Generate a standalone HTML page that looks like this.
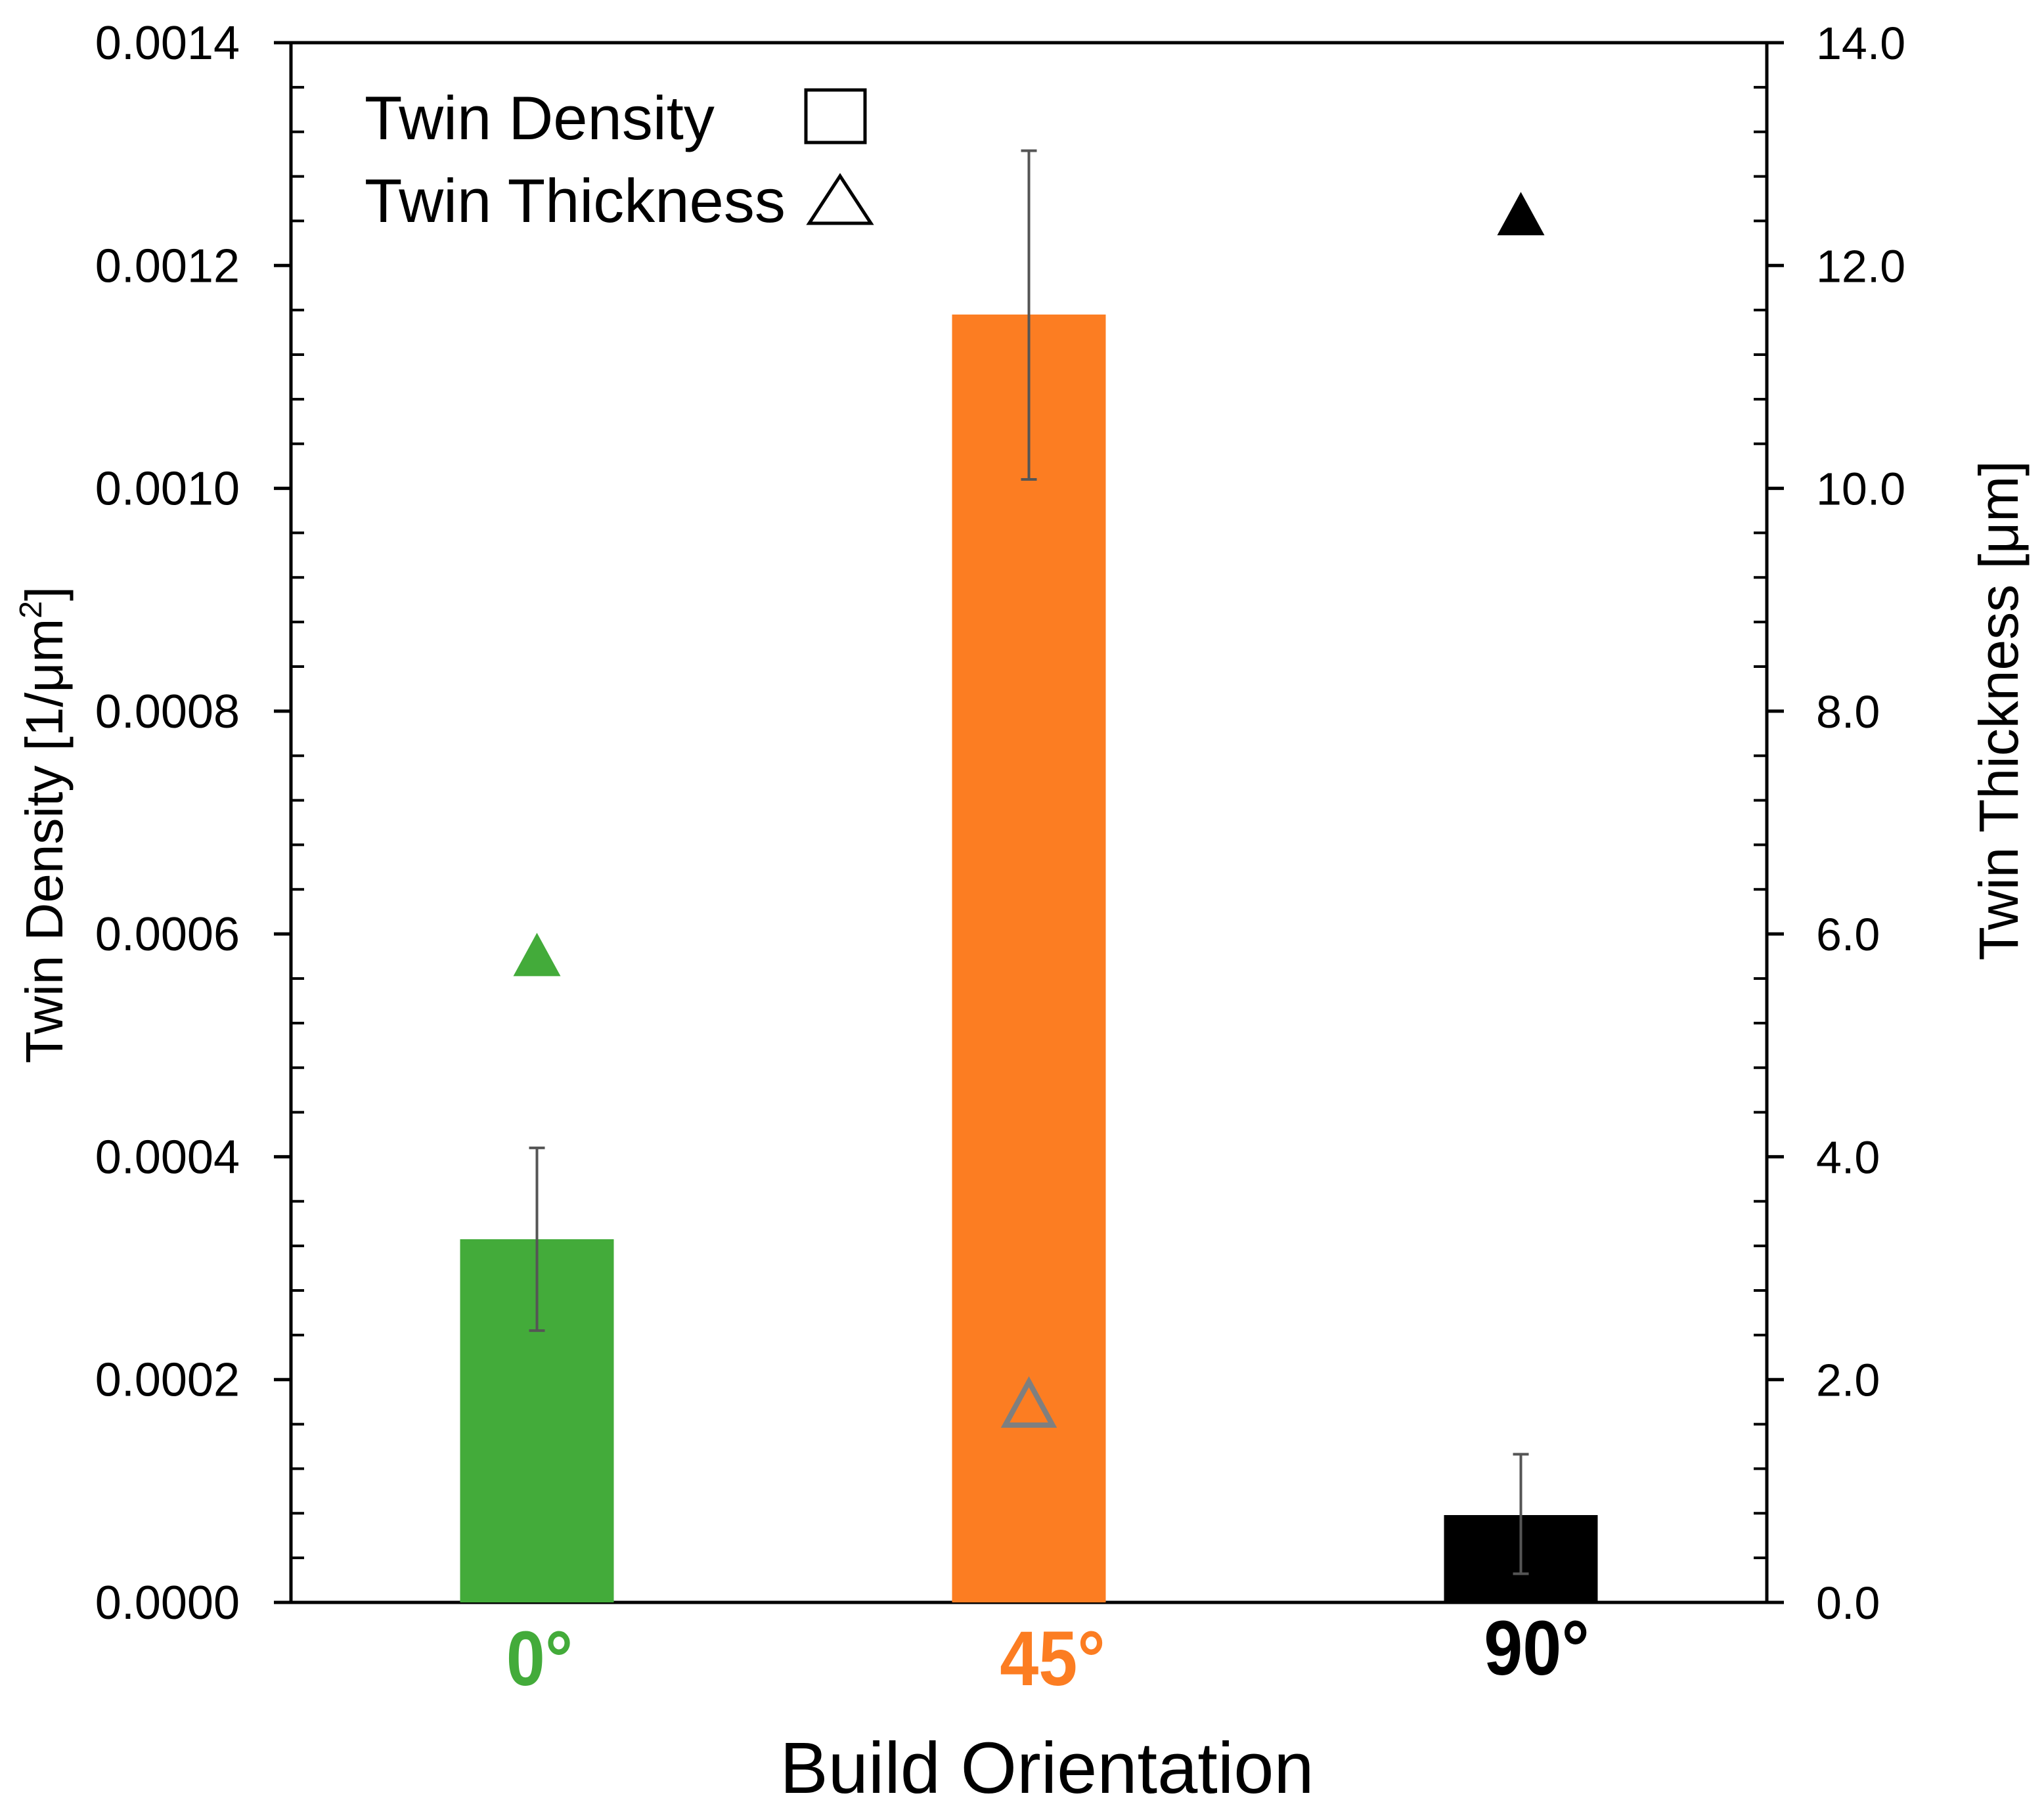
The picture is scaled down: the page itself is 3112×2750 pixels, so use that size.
<!DOCTYPE html>
<html><head><meta charset="utf-8"><style>
html,body{margin:0;padding:0;background:#fff;}
svg{display:block;font-family:"Liberation Sans",sans-serif;}
</style></head><body>
<svg id="chart" width="3112" height="2750" viewBox="0 0 3112 2750">
<g id="axes"></g>
<g id="marks"></g>
<g>
<text x="555" y="212" font-size="94">Twin Density</text>
<rect x="1227" y="137" width="90" height="80" fill="none" stroke="#000" stroke-width="5"/>
<text x="555" y="338" font-size="94">Twin Thickness</text>
<polygon points="1279,268 1232,340 1326,340" fill="none" stroke="#000" stroke-width="5"/>
</g>
<text x="1594" y="2730" font-size="110" text-anchor="middle">Build Orientation</text>
<text transform="translate(95,1256) rotate(-90)" font-size="80" text-anchor="middle">Twin Density [1/μm<tspan font-size="48" dy="-32">2</tspan><tspan dy="32">]</tspan></text>
<text transform="translate(3072,1082) rotate(-90)" font-size="84" text-anchor="middle">Twin Thickness [μm]</text>
</svg>
<script>
const categories = ["0°","45°","90°"];
const colors = ["#43ab3a","#fc7d22","#000000"];
const density = [0.000326, 0.001156, 0.0000784];
const densityErrLow = [0.000244, 0.001008, 0.0000257];
const densityErrHigh = [0.000408, 0.001303, 0.000133];
const thickness = [5.81, 1.78, 12.46];
const thicknessFill = ["#43ab3a","none","#000000"];
const leftTicks = ["0.0000","0.0002","0.0004","0.0006","0.0008","0.0010","0.0012","0.0014"];
const rightTicks = ["0.0","2.0","4.0","6.0","8.0","10.0","12.0","14.0"];

const NS="http://www.w3.org/2000/svg";
const X0=443,X1=2690,Y0=2440,Y1=65;
const yL=v=>Y0-(v/0.0014)*(Y0-Y1);
const yR=v=>Y0-(v/14)*(Y0-Y1);
const xC=i=>X0+(X1-X0)*(i+0.5)/categories.length;
function mk(tag,attrs,parent){const e=document.createElementNS(NS,tag);for(const k in attrs)e.setAttribute(k,attrs[k]);parent.appendChild(e);return e;}
const axes=document.getElementById('axes'),marks=document.getElementById('marks');

let e;
e=mk('line',{x1:X0,y1:Y1,x2:X0,y2:Y0,stroke:'#000','stroke-width':5},axes);


e=mk('line',{x1:X1,y1:Y1,x2:X1,y2:Y0,stroke:'#000','stroke-width':5},axes);


e=mk('line',{x1:417,y1:Y0,x2:2716,y2:Y0,stroke:'#000','stroke-width':5},axes);


e=mk('line',{x1:417,y1:Y1,x2:2716,y2:Y1,stroke:'#000','stroke-width':5},axes);


for(let k=0;k<=35;k++){
  const v=k*0.00004,y=yL(v);
  if(k%5===0){
    mk('line',{x1:417,y1:y,x2:X0,y2:y,stroke:'#000','stroke-width':5},axes);
    mk('line',{x1:X1,y1:y,x2:2716,y2:y,stroke:'#000','stroke-width':5},axes);
  } else {
    mk('line',{x1:X0,y1:y,x2:X0+20,y2:y,stroke:'#000','stroke-width':4},axes);
    mk('line',{x1:X1-20,y1:y,x2:X1,y2:y,stroke:'#000','stroke-width':4},axes);
  }
}
leftTicks.forEach((t,i)=>{
  const el=mk('text',{x:365,y:yL(parseFloat(t))+25,'font-size':72,'text-anchor':'end'},axes);el.textContent=t;
  
  
});
rightTicks.forEach((t,i)=>{
  const el=mk('text',{x:2765,y:yR(parseFloat(t))+25,'font-size':70},axes);el.textContent=t;
  
  
});
const bw=234;
categories.forEach((c,i)=>{
  const cx=xC(i);
  const b=mk('rect',{x:cx-bw/2,y:yL(density[i]),width:bw,height:Y0-yL(density[i]),fill:colors[i]},marks);
  
  
  const g=mk('g',{stroke:'#555','stroke-width':4},marks);
  
  
  const lo=yL(densityErrLow[i]),hi=yL(densityErrHigh[i]);
  mk('line',{x1:cx,y1:lo,x2:cx,y2:hi},g);
  mk('line',{x1:cx-12,y1:lo,x2:cx+12,y2:lo},g);
  mk('line',{x1:cx-12,y1:hi,x2:cx+12,y2:hi},g);
  const ty=yR(thickness[i]);
  const tri=mk('polygon',{points:`${cx},${ty-34} ${cx-36},${ty+32} ${cx+36},${ty+32}`,fill:thicknessFill[i],stroke:thicknessFill[i]==='none'?'#7f7f7f':'none','stroke-width':8},marks);
  
  
  const lx=cx+[4,36,24][i];
  const ly=[2566,2566,2550][i];
  const lab=mk('text',{x:lx,y:ly,'font-size':118,'font-weight':'bold','text-anchor':'middle',fill:colors[i],transform:`translate(${lx},0) scale(0.9,1) translate(${-lx},0)`},marks);
  lab.textContent=c;
  
  
});
</script>
</body></html>
